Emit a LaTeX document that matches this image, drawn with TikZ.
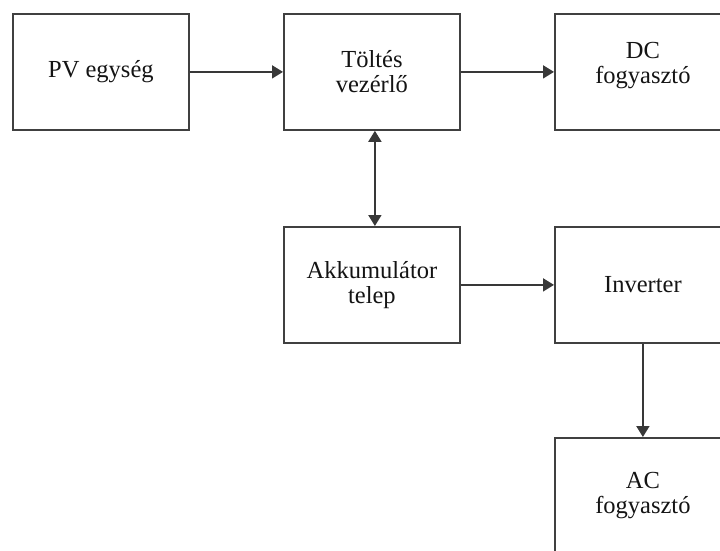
\documentclass[tikz,border=0pt]{standalone}
\usepackage{fontspec}
\setmainfont{Liberation Serif}
\usetikzlibrary{arrows.meta,calc}
\begin{document}
\begin{tikzpicture}[x=1pt,y=-1pt,
  blk/.style={draw=black!75,line width=1.8pt,minimum width=176pt,minimum height=116pt,
    inner sep=0pt,anchor=north west,align=center,font=\fontsize{24.5}{25}\selectfont,text=black!92},
  conn/.style={draw=black!78,line width=1.8pt,-{Triangle[length=11pt,width=13pt]}},
  conn2/.style={draw=black!78,line width=1.8pt,{Triangle[length=11pt,width=13pt]}-{Triangle[length=11pt,width=13pt]}}]
\useasboundingbox (0,0) rectangle (720,550);
\fill[white] (0,0) rectangle (720,550);
\node[blk] (pv) at (12,13) {PV egység};
\node[blk] (tv) at (283,13) {Töltés\\vezérlő};
\node[blk] (dc) at (554,13) {DC\\fogyasztó\\[-7pt]\mbox{}};
\node[blk] (ak) at (283,226) {Akkumulátor\\telep};
\node[blk] (inv) at (554,226) {Inverter};
\node[blk] (ac) at (554,437) {AC\\fogyasztó};
\draw[conn] (pv.east) -- (tv.west);
\draw[conn] (tv.east) -- (dc.west);
\draw[conn2] ($(tv.south)+(3,0)$) coordinate (t1) -- (t1 |- ak.north);
\draw[conn] (ak.east) -- (inv.west);
\draw[conn] (inv.south) -- (ac.north);
\end{tikzpicture}
\end{document}
